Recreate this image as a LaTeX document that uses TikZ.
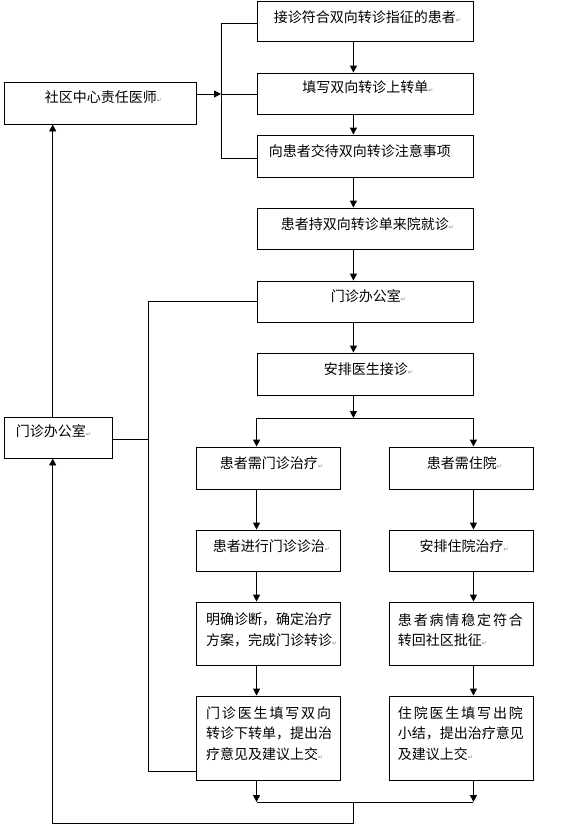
\documentclass[tikz,border=0pt]{standalone}
\usepackage{fontspec}
\newfontfamily\cjk{Noto Sans CJK SC}
\newfontfamily\symf{DejaVu Sans}
\usetikzlibrary{arrows.meta,calc}
\newcommand\rmk{{\symf\fontsize{6}{6}\selectfont\textcolor{gray}{↵}}}
\newcommand\rmkb{{\symf\fontsize{6}{6}\selectfont\textcolor{gray!60}{:}}}
\begin{document}
\begin{tikzpicture}[x=1pt,y=-1pt,
  box/.style={draw, line width=0.9pt, inner sep=0pt},
  txt/.style={inner sep=0pt, align=left, font=\cjk\fontsize{14}{20.5}\selectfont},
  arr/.style={-{Triangle[length=7pt,width=7pt]}},
  every path/.style={line width=0.9pt}]
\useasboundingbox (0,0) rectangle (561,830);
% boxes
\node[box, minimum width=216pt, minimum height=40pt] (b1) at (365,21) {};
\node[box, minimum width=216pt, minimum height=41pt] (b2) at (365,93.5) {};
\node[box, minimum width=216pt, minimum height=42pt] (b3) at (365,156) {};
\node[box, minimum width=192.5pt, minimum height=42pt] (sq) at (100.5,103) {};
\node[box, minimum width=216pt, minimum height=41pt] (b4) at (365,228.5) {};
\node[box, minimum width=216pt, minimum height=41pt] (b5) at (365,301.5) {};
\node[box, minimum width=216pt, minimum height=42pt] (b6) at (365,374) {};
\node[box, minimum width=108.6pt, minimum height=41pt] (mz) at (58.6,437.5) {};
\node[box, minimum width=144pt, minimum height=42pt] (l1) at (268.8,468) {};
\node[box, minimum width=144pt, minimum height=42pt] (r1) at (461,468) {};
\node[box, minimum width=144pt, minimum height=41pt] (l2) at (268.8,550.5) {};
\node[box, minimum width=144pt, minimum height=41pt] (r2) at (461,550.5) {};
\node[box, minimum width=144pt, minimum height=63pt] (l3) at (268.8,633.5) {};
\node[box, minimum width=144pt, minimum height=63pt] (r3) at (461,633.5) {};
\node[box, minimum width=144pt, minimum height=84pt] (l4) at (268.8,738) {};
\node[box, minimum width=144pt, minimum height=84pt] (r4) at (461,738) {};
% texts
\node[txt] (t1) at ($(b1.north)+(2.5,17)$) {接诊符合双向转诊指征的患者\rmk};
\node[txt] (t2) at ($(b2.north)+(3,15)$) {填写双向转诊上转单\rmk};
\node[txt] (t3) at ($(b3.north)+(-4,17)$) {向患者交待双向转诊注意事项\rmkb};
\node[txt] (tsq) at ($(sq.north)+(3,16)$) {社区中心责任医师\rmk};
\node[txt] (t4) at ($(b4.north)+(2.3,17)$) {患者持双向转诊单来院就诊\rmk};
\node[txt] (t5) at ($(b5.north)+(3.3,16)$) {门诊办公室\rmk};
\node[txt] (t6) at ($(b6.north)+(3.3,17)$) {安排医生接诊\rmk};
\node[txt] (tmz) at ($(mz.north)+(-5.2,15)$) {门诊办公室\rmk};
\node[txt] (tl1) at ($(l1.north)+(2.7,17)$) {患者需门诊治疗\rmk};
\node[txt] (tr1) at ($(r1.north)+(3.5,17)$) {患者需住院\rmk};
\node[txt] (tl2) at ($(l2.north)+(2.7,17)$) {患者进行门诊诊治\rmk};
\node[txt] (tr2) at ($(r2.north)+(3.2,17)$) {安排住院治疗\rmk};
\node[txt, anchor=west] (tl3) at ($(l3.west)+(9.3,-3.5)$) {明确诊断，确定治疗\\方案，完成门诊转诊\rmk};
\node[txt, anchor=west] (tr3) at ($(r3.west)+(8.9,-3.5)$) {\makebox[125pt][s]{患\hfill 者\hfill 病\hfill 情\hfill 稳\hfill 定\hfill 符\hfill 合}\\转回社区批征\rmk};
\node[txt, anchor=west] (tl4) at ($(l4.west)+(9.3,-4.5)$) {\makebox[125pt][s]{门\hfill 诊\hfill 医\hfill 生\hfill 填\hfill 写\hfill 双\hfill 向}\\转诊下转单，提出治\\疗意见及建议上交\rmk};
\node[txt, anchor=west] (tr4) at ($(r4.west)+(8.9,-4.5)$) {\makebox[125pt][s]{住\hfill 院\hfill 医\hfill 生\hfill 填\hfill 写\hfill 出\hfill 院}\\小结，提出治疗意见\\及建议上交\rmk};
% helper coordinates
\coordinate (mx) at (353.4,0);
\coordinate (lx) at (l1.north -| b1.west);
\coordinate (rx) at (r1.north -| b1.east);
\coordinate (lc) at (52.7,0);
\coordinate (bt) at (221,23);
\coordinate (bb) at (221,158);
\coordinate (sqo) at (sq.east |- 0,94);
\coordinate (sp) at (353.4,418);
\coordinate (jn) at (353.4,802);
\coordinate (bot) at (353.4,823);
\coordinate (k1) at (148.7,771);
% top bracket
\draw (bt) -- (bb);
\draw (bt) -- (b1.west |- bt);
\draw (sqo -| bt) -- (b2.west |- sqo);
\draw (bb) -- (b3.west |- bb);
\draw[arr] (sqo) -- (sqo -| bt);
% main column
\draw[arr] (b1.south -| mx) -- (b2.north -| mx);
\draw[arr] (b2.south -| mx) -- (b3.north -| mx);
\draw[arr] (b3.south -| mx) -- (b4.north -| mx);
\draw[arr] (b4.south -| mx) -- (b5.north -| mx);
\draw[arr] (b5.south -| mx) -- (b6.north -| mx);
\draw[arr] (b6.south -| mx) -- (sp);
\draw (lx |- sp) -- (rx |- sp);
\draw[arr] (lx |- sp) -- (l1.north -| lx);
\draw[arr] (rx |- sp) -- (r1.north -| rx);
% left column
\draw[arr] (l1.south -| lx) -- (l2.north -| lx);
\draw[arr] (l2.south -| lx) -- (l3.north -| lx);
\draw[arr] (l3.south -| lx) -- (l4.north -| lx);
% right column
\draw[arr] (r1.south -| rx) -- (r2.north -| rx);
\draw[arr] (r2.south -| rx) -- (r3.north -| rx);
\draw[arr] (r3.south -| rx) -- (r4.north -| rx);
% bottom join
\draw[arr] (l4.south -| lx) -- (lx |- jn);
\draw[arr] (r4.south -| rx) -- (rx |- jn);
\draw (lx |- jn) -- (rx |- jn);
\draw[arr] (jn) -- (bot) -| (mz.south -| lc);
\draw[arr] (mz.north -| lc) -- (sq.south -| lc);
% left feedback bracket
\draw (b5.west) -| (k1) -- (k1 -| l4.west);
\draw (mz.east |- 0,439) -- (k1 |- 0,439);
\end{tikzpicture}
\end{document}
